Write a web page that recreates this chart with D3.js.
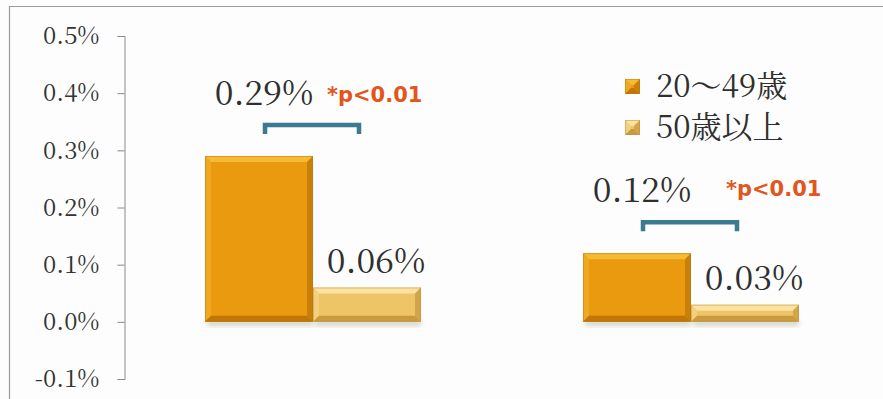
<!DOCTYPE html>
<html>
<head>
<meta charset="utf-8">
<script src="https://cdn.jsdelivr.net/npm/d3@7"></script>
<style>
  html, body { margin: 0; padding: 0; background: #fdfdfd; }
  svg { display: block; }
</style>
</head>
<body>
<svg id="chart" width="883" height="399"></svg>
<script>
// Chart data
const categories = ["グループA", "グループB"];
const seriesNames = ["20～49歳", "50歳以上"];
const youngValues = [0.29, 0.12];   // %
const olderValues = [0.06, 0.03];   // %
const yTicks = [-0.1, 0.0, 0.1, 0.2, 0.3, 0.4, 0.5];
const sigLabels = ["*p<0.01", "*p<0.01"];

const SERIF = "Noto Serif CJK JP";
const SANS_BOLD = "DejaVu Sans";

const svg = d3.select("#chart");
const W = 883, H = 399;

// Frame (top and left edges only)
svg.append("path")
  .attr("d", `M9.5,${H} V6.5 H${W}`)
  .attr("fill", "none").attr("stroke", "#9a9a9a").attr("stroke-width", 1.2);

const x0 = d3.scaleBand().domain(categories).range([124, 880]).padding(0);
const groupWidth = 216;
const x1 = d3.scaleBand().domain(seriesNames).range([0, groupWidth]);
const y = d3.scaleLinear().domain([-0.1, 0.5]).range([379, 36]);

// Y axis
const axis = d3.axisLeft(y).tickValues(yTicks).tickSize(7).tickPadding(18)
  .tickFormat(d => d3.format(".1f")(d).replace("−", "-") + "%");
const gAxis = svg.append("g").attr("transform", "translate(124.5,0)").call(axis);
gAxis.select(".domain").attr("stroke", "#8a8a8a").attr("stroke-width", 1);
gAxis.selectAll(".tick line").attr("stroke", "#8a8a8a");
gAxis.selectAll(".tick text").attr("font-family", SERIF).attr("font-size", 24).attr("fill", "#333");

const defs = svg.append("defs");
defs.append("filter").attr("id", "shadow").attr("x", "-10%").attr("y", "-10%").attr("width", "120%").attr("height", "140%")
  .append("feGaussianBlur").attr("stdDeviation", 2.5);

const palettes = [
  { base: "#E99A0E", top: "#F6BA34", left: "#F0A820", right: "#C9800A", bottom: "#C07608", edge: "#B87810" },
  { base: "#EEC466", top: "#FAE3A2", left: "#F3D080", right: "#D2A54A", bottom: "#C99A40", edge: "#C09040" }
];

function bevelBar(g, x, yTop, w, yBot, pal, withShadow) {
  const b = Math.min(6, (yBot - yTop) / 2.5);
  if (withShadow) {
    g.append("rect").attr("x", x + 2).attr("y", yBot - 2).attr("width", w - 2).attr("height", 6)
      .attr("fill", "#9fa58a").attr("opacity", 0.45).attr("filter", "url(#shadow)");
  }
  g.append("rect").attr("x", x).attr("y", yTop).attr("width", w).attr("height", yBot - yTop).attr("fill", pal.base);
  const poly = (pts, fill) => g.append("polygon").attr("points", pts.map(p => p.join(",")).join(" ")).attr("fill", fill);
  poly([[x, yTop], [x + w, yTop], [x + w - b, yTop + b], [x + b, yTop + b]], pal.top);
  poly([[x, yTop], [x + b, yTop + b], [x + b, yBot - b], [x, yBot]], pal.left);
  poly([[x + w, yTop], [x + w, yBot], [x + w - b, yBot - b], [x + w - b, yTop + b]], pal.right);
  poly([[x, yBot], [x + b, yBot - b], [x + w - b, yBot - b], [x + w, yBot]], pal.bottom);
  g.append("rect").attr("x", x + 0.5).attr("y", yTop + 0.5).attr("width", w - 1).attr("height", yBot - yTop - 1)
    .attr("fill", "none").attr("stroke", pal.edge).attr("stroke-width", 0.8).attr("opacity", 0.6);
}

const series = [youngValues, olderValues];
const gBars = svg.append("g");
categories.forEach((c, i) => {
  const gx = x0(c) + (x0.bandwidth() - groupWidth) / 2;
  series.forEach((vals, s) => {
    const bx = gx + x1(seriesNames[s]);
    bevelBar(gBars, bx, y(vals[i]), x1.bandwidth(), y(0), palettes[s], true);
  });
});

// Value labels, brackets and significance notes
const labelFmt = v => d3.format(".2f")(v) + "%";
categories.forEach((c, i) => {
  const gx = x0(c) + (x0.bandwidth() - groupWidth) / 2;
  const bw = x1.bandwidth();
  const yl = y(youngValues[i]);
  const yo = y(olderValues[i]);
  svg.append("text").attr("x", gx + bw / 2 + 5).attr("y", yl - 51)
    .attr("text-anchor", "middle").attr("font-family", SERIF).attr("font-size", 34)
    .attr("fill", "#2f2f2f")
    .text(labelFmt(youngValues[i]));
  svg.append("text").attr("x", gx + bw * 1.5 + 9).attr("y", yo - 15)
    .attr("text-anchor", "middle").attr("font-family", SERIF).attr("font-size", 34)
    .attr("fill", "#2f2f2f")
    .text(labelFmt(olderValues[i]));
  const bx1 = gx + bw / 2 + 6, bx2 = gx + bw * 1.5 - 8;
  const by = yl - 31;
  svg.append("path").attr("d", `M${bx1},${by + 9} V${by} H${bx2} V${by + 9}`)
    .attr("fill", "none").attr("stroke", "#3B7A92").attr("stroke-width", 4.5);
  svg.append("text").attr("x", i === 0 ? bx2 - 32 : bx2 - 11).attr("y", i === 0 ? yl - 54 : yl - 57)
    .attr("font-family", SANS_BOLD).attr("font-weight", "bold").attr("font-size", 21)
    .attr("fill", "#E2561E").text(sigLabels[i]);
});

// Legend
const legend = svg.append("g").attr("transform", "translate(625,0)");
seriesNames.forEach((name, s) => {
  const ly = 79 + s * 41;
  bevelBar(legend.append("g"), 0, ly, 15, ly + 15, palettes[s], false);
  legend.append("text").attr("x", 31).attr("y", ly + 18)
    .attr("font-family", SERIF).attr("font-size", 31).attr("fill", "#2f2f2f")
    .text(name);
});
</script>
</body>
</html>
